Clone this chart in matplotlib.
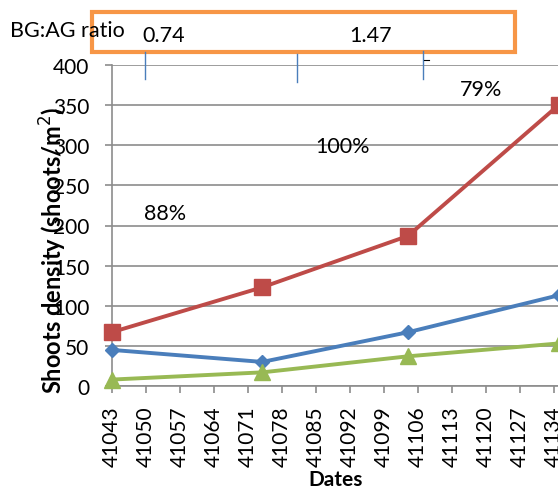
import matplotlib
matplotlib.use("Agg")
import matplotlib.pyplot as plt
from matplotlib.patches import Rectangle
from matplotlib.lines import Line2D

# sampling dates (Excel serial numbers)
dates = [41043, 41074, 41104, 41135]
red_vals = [67, 123, 187, 350]
blue_vals = [45, 30, 67, 113]
green_vals = [8, 17, 37, 53]

x_ticks = list(range(41043, 41135, 7))
y_ticks = [0, 50, 100, 150, 200, 250, 300, 350, 400]

pct_labels = ["88%", "100%", "79%"]
pct_x = [41054, 41090.5, 41119]
pct_y = [216, 299, 370]

ratio_labels = ["0.74", "1.47"]

W, H = 558, 489
plt.rcParams["font.family"] = ["Lato", "DejaVu Sans"]

fig = plt.figure(figsize=(W / 100, H / 100), dpi=100)
ax = fig.add_axes([111.7 / W, 102 / H, 476 / W, 321 / H])

ax.plot(dates, red_vals, color="#BE4B48", lw=2.8, marker="s", ms=11, clip_on=False, zorder=3)
ax.plot(dates, blue_vals, color="#4A7EBB", lw=2.8, marker="D", ms=7.5, clip_on=False, zorder=3)
ax.plot(dates, green_vals, color="#98B954", lw=2.8, marker="^", ms=11, clip_on=False, zorder=3)

ax.set_xlim(41043, 41141)
ax.set_ylim(0, 400)
ax.set_xticks(x_ticks)
ax.set_xticklabels([str(t) for t in x_ticks], rotation=90, fontsize=15)
ax.set_yticks(y_ticks)
ax.set_yticklabels([str(t) for t in y_ticks], fontsize=15)
ax.yaxis.grid(True, color="#8c8c8c", lw=1.2)
ax.set_axisbelow(True)
for s in ["top", "right"]:
    ax.spines[s].set_visible(False)
for s in ["left", "bottom"]:
    ax.spines[s].set_color("#8c8c8c")
    ax.spines[s].set_linewidth(1.2)
ax.tick_params(axis="both", colors="#8c8c8c", length=5, width=1.2, labelcolor="black")
ax.tick_params(axis="y", pad=11)
ax.tick_params(axis="x", pad=9)

ax.set_xlabel("Dates", fontsize=15, fontweight="bold", va="baseline")
ax.xaxis.set_label_coords((336 - 111.7) / 476, (387 - 486) / 321)
ax.set_ylabel("Shoots density (shoots/m$^2$)", fontsize=17, fontweight="bold", va="center")
ax.yaxis.set_label_coords((53 - 111.7) / 476, (387 - 250) / 321)

for lab, x, y in zip(pct_labels, pct_x, pct_y):
    ax.text(x, y, lab, fontsize=15.5, ha="center", va="center")

# BG:AG ratio box above the plot
fig.patches.append(Rectangle((92 / W, 1 - 53 / H), (515 - 92) / W, (53 - 13) / H,
                             transform=fig.transFigure, fill=False,
                             edgecolor="#F79646", lw=3))
fig.text(10 / W, 1 - 31 / H, "BG:AG ratio", fontsize=15.5, va="center")
fig.text(142 / W, 1 - 36 / H, ratio_labels[0], fontsize=15.5, va="center")
fig.text(349 / W, 1 - 36 / H, ratio_labels[1], fontsize=15.5, va="center")
for px, y0, y1 in [(145, 53, 80), (297, 55, 83), (423, 52, 80)]:
    fig.add_artist(Line2D([px / W, px / W], [1 - y0 / H, 1 - y1 / H],
                          transform=fig.transFigure, color="#4A7EBB", lw=1))
fig.add_artist(Line2D([424 / W, 429 / W], [1 - 61 / H, 1 - 61 / H],
                      transform=fig.transFigure, color="black", lw=0.8))

fig.savefig("out.png", dpi=100)
